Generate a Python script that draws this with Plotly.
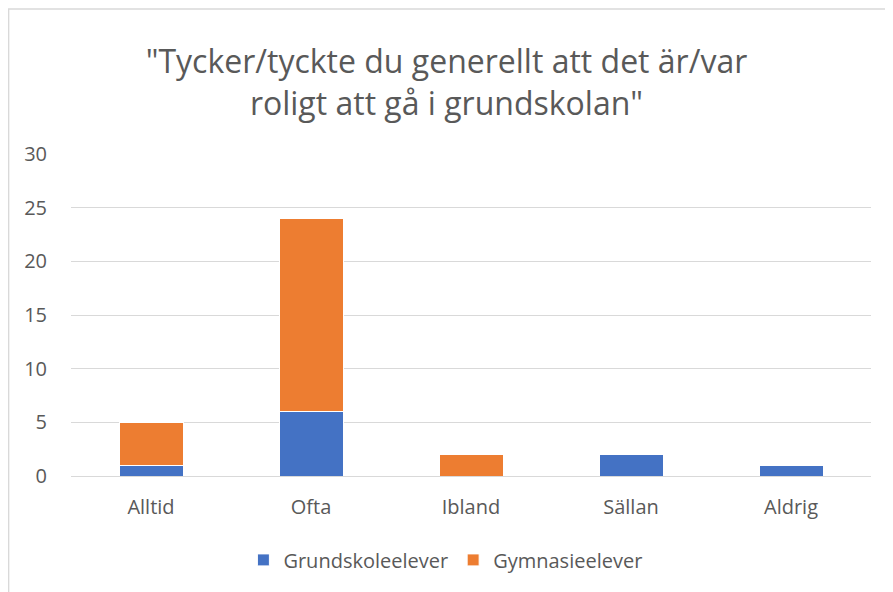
import plotly.graph_objects as go

categories = ["Alltid", "Ofta", "Ibland", "Sällan", "Aldrig"]
grundskole = [1, 6, 0, 2, 1]
gymnasie = [4, 18, 2, 0, 0]
series_names = ["Grundskoleelever", "Gymnasieelever"]
title_text = '"Tycker/tyckte du generellt att det är/var<br>roligt att gå i grundskolan"'
y_ticks = [0, 5, 10, 15, 20, 25, 30]

FONT = "Open Sans"
TXT = "#595959"

fig = go.Figure()
fig.add_trace(go.Bar(x=categories, y=grundskole, name=series_names[0],
                     marker=dict(color="#4472C4", line=dict(color="white", width=1))))
fig.add_trace(go.Bar(x=categories, y=gymnasie, name=series_names[1],
                     marker=dict(color="#ED7D31", line=dict(color="white", width=1))))

fig.update_layout(
    barmode="stack",
    bargap=0.6,
    width=893, height=592,
    margin=dict(l=63, r=30, t=146, b=124, autoexpand=False),
    paper_bgcolor="white", plot_bgcolor="white",
    font=dict(family=FONT, color=TXT, size=20),
    title=dict(text=title_text, x=0.491, xref="container", xanchor="center",
               y=0.89, yref="container", yanchor="middle",
               font=dict(family=FONT, size=32, color=TXT)),
    legend=dict(orientation="h", x=0.468, xanchor="center", y=-0.2, yanchor="top",
                font=dict(family=FONT, size=20, color=TXT),
                traceorder="normal"),
    showlegend=True,
)
fig.update_xaxes(showgrid=False, showline=False, ticks="", tickfont=dict(size=20, color=TXT),
                 ticklabelstandoff=17)
fig.update_yaxes(range=[0, 30], tickvals=y_ticks, showgrid=True, gridcolor="#D9D9D9", gridwidth=1.3,
                 zeroline=True, zerolinecolor="#D9D9D9", zerolinewidth=1.3, showline=False, ticks="",
                 tickfont=dict(size=20, color=TXT), ticklabelstandoff=23)

fig.add_shape(type="rect", xref="paper", yref="paper",
              x0=-0.078, x1=1.2, y0=-1.0, y1=1.45,
              line=dict(color="#D9D9D9", width=1.5), fillcolor="rgba(0,0,0,0)", layer="below")

fig.write_html("out.html")
